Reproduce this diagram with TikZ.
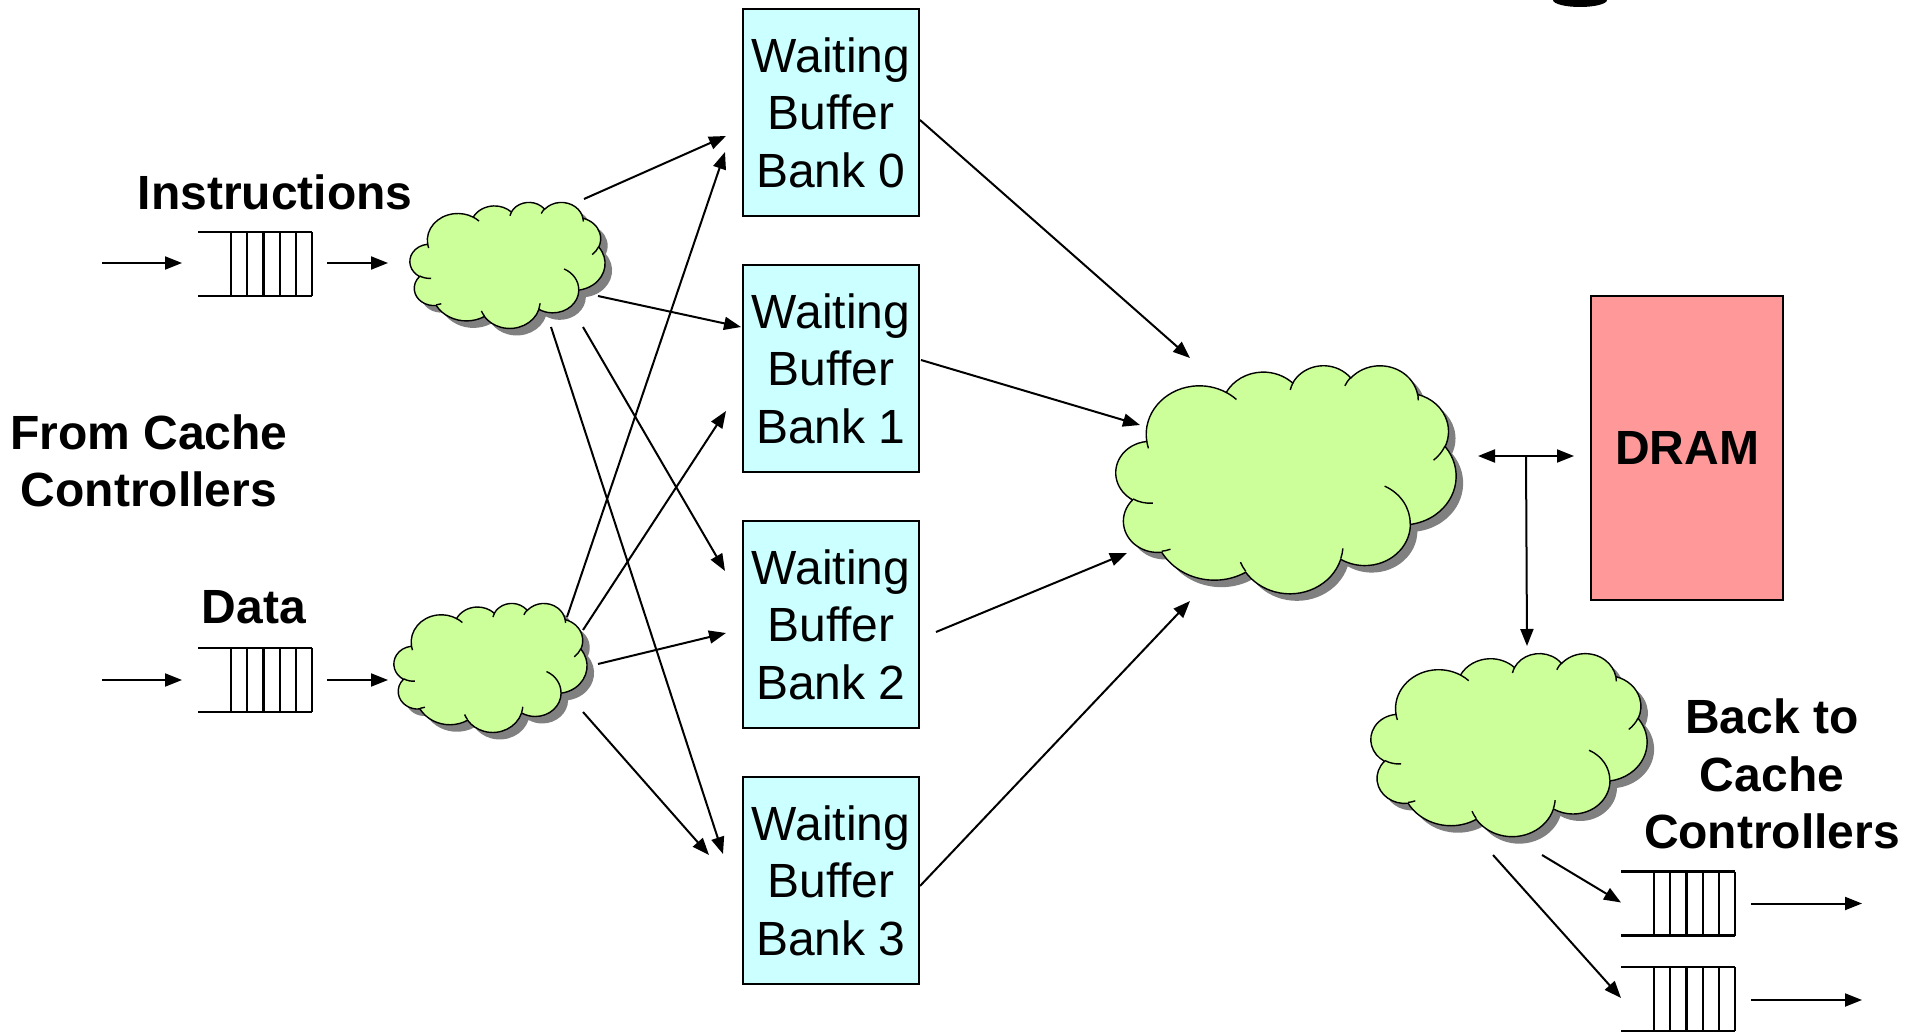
\documentclass[tikz,border=0pt]{standalone}
\usepackage{fontspec}
\setmainfont{Liberation Sans}
\usetikzlibrary{arrows.meta,calc}

\definecolor{cloudgreen}{HTML}{CCFF99}
\definecolor{boxcyan}{HTML}{CCFFFF}
\definecolor{drampink}{HTML}{FF9999}
\definecolor{shadowgray}{HTML}{808080}

% ---- PowerPoint-style cloud outline (43.2 x 43.2 path space) ----
\def\cloudmain{}
\def\cloudinner{}
\newcommand\cldarc[5]{%
  \pgfmathsetmacro\cldA{atan2((#2)*sin(#4),(#3)*cos(#4))}%
  \pgfmathsetmacro\cldB{atan2((#2)*sin((#4)+(#5)),(#3)*cos((#4)+(#5)))}%
  \pgfmathsetmacro\cldD{mod(\cldB-(\cldA)+540,360)-180}%
  \xdef#1{#1 arc[start angle=\cldA, delta angle=\cldD, x radius=#2, y radius=#3]}%
}
\newcommand\cldmove[3]{\xdef#1{#1 (#2,#3)}}

\cldarc\cloudmain{6.753}{9.190}{-190.48748}{123.78053}
\cldarc\cloudmain{5.333}{7.267}{-144.10238}{89.94523}
\cldarc\cloudmain{4.365}{5.945}{-145.80792}{99.72302}
\cldarc\cloudmain{4.857}{6.595}{-130.98607}{117.24173}
\cldarc\cloudmain{5.333}{7.273}{-78.70888}{109.02692}
\cldarc\cloudmain{6.775}{9.220}{-46.26725}{130.269}
\cldarc\cloudmain{5.785}{7.867}{0.62502}{114.03333}
\cldarc\cloudmain{6.752}{9.215}{22.4516}{115.17255}
\cldarc\cloudmain{7.720}{10.543}{66.24263}{75.71102}
\cldarc\cloudmain{4.360}{5.918}{-274.94208}{146.73557}
\cldarc\cloudmain{4.345}{5.945}{-246.8285}{152.52002}

\cldmove\cloudinner{4.693}{26.177}\cldarc\cloudinner{4.345}{5.945}{86.742}{26.4295}
\cldmove\cloudinner{6.928}{34.899}\cldarc\cloudinner{4.360}{5.918}{73.61047}{11.44747}
\cldmove\cloudinner{16.478}{39.090}\cldarc\cloudinner{6.752}{9.215}{137.62415}{14.0811}
\cldmove\cloudinner{28.827}{34.751}\cldarc\cloudinner{6.752}{9.215}{6.45327}{15.99835}
\cldmove\cloudinner{34.129}{22.954}\cldarc\cloudinner{5.785}{7.867}{-70.29235}{70.91737}
\cldmove\cloudinner{41.798}{15.354}\cldarc\cloudinner{5.333}{7.273}{30.31803}{27.7515}
\cldmove\cloudinner{38.324}{5.426}\cldarc\cloudinner{4.857}{6.595}{-13.74433}{14.8589}
\cldmove\cloudinner{29.078}{3.952}\cldarc\cloudinner{4.857}{6.595}{-149.18145}{18.19537}
\cldmove\cloudinner{22.141}{4.720}\cldarc\cloudinner{4.365}{5.945}{-163.49427}{17.68635}
\cldmove\cloudinner{14.000}{5.192}\cldarc\cloudinner{6.753}{9.190}{-66.70695}{12.31935}
\cldmove\cloudinner{4.127}{15.789}\cldarc\cloudinner{6.753}{9.190}{157.65435}{11.85817}

% cloud: name, left, top, width, height (px units)
\newcommand\cloudat[5]{%
  \pgfmathsetmacro\cldsx{#4/43.2}%
  \pgfmathsetmacro\cldsy{#5/43.2}%
  \begin{scope}[shift={(#2+7,#3+7)},xscale=\cldsx,yscale=\cldsy]
    \fill[shadowgray] (3.9,14.37) \cloudmain -- cycle;
  \end{scope}
  \begin{scope}[shift={(#2,#3)},xscale=\cldsx,yscale=\cldsy]
    \filldraw[cloudline,fill=cloudgreen] (3.9,14.37) \cloudmain -- cycle;
    \draw[cloudline] \cloudinner;
  \end{scope}
  \coordinate (#1) at (#2+#4/2,#3+#5/2);
}

% queue: name, left x, middle y
\newcommand\queueat[3]{%
  \coordinate (#1) at (#2,#3);
  \draw[qline] (#2,#3-32) -- ++(114,0) (#2,#3+32) -- ++(114,0);
  \foreach \k in {0,...,5}{\draw[qline] (#2+33+16.2*\k,#3-32) -- ++(0,64);}
}

\tikzset{
  lbl/.style={font=\fontsize{24}{28.7}\selectfont\bfseries, align=center, inner sep=0pt},
  bank/.style={draw, line width=1pt, fill=boxcyan, minimum width=88pt,
    minimum height=103.5pt, inner sep=0pt, align=center,
    font=\fontsize{24}{28.7}\selectfont},
  arr/.style={-{Triangle[length=8.5pt,width=6.5pt]}, line width=1pt},
  biarr/.style={{Triangle[length=8.5pt,width=6.5pt]}-{Triangle[length=8.5pt,width=6.5pt]}, line width=1pt},
  qline/.style={line width=1.1pt},
  cloudline/.style={line width=0.7pt, draw=black},
}

\begin{document}
\begin{tikzpicture}[x=0.5pt,y=-0.5pt]
\useasboundingbox (0,0) rectangle (1916,1032);

% fragment of a glyph at the top edge
\fill (1553,0) arc[start angle=180, end angle=0, x radius=27, y radius=7] -- cycle;

% labels
\node[lbl] (instr) at (275,192) {Instructions};
\node[lbl] (from) at (149,461) {From Cache\\Controllers};
\node[lbl] (data) at (254,607) {Data};
\node[lbl] (back) at (1772,774) {Back to\\Cache\\Controllers};

% banks
\node[bank] (b0) at (831,112.5) {Waiting\\Buffer\\Bank 0};
\node[bank] (b1) at (831,368.5) {Waiting\\Buffer\\Bank 1};
\node[bank] (b2) at (831,624.5) {Waiting\\Buffer\\Bank 2};
\node[bank] (b3) at (831,880.5) {Waiting\\Buffer\\Bank 3};

% DRAM
\node[draw, line width=1pt, fill=drampink, minimum width=96pt, minimum height=152pt,
      inner sep=0pt, font=\fontsize{24}{28.7}\selectfont\bfseries] (dram) at (1687,448) {DRAM};

% clouds
\cloudat{c1}{410}{202}{195}{126}
\cloudat{c2}{394}{603}{193}{129}
\cloudat{c3}{1116}{365}{340}{228}
\cloudat{c4}{1371}{653}{276}{183}

% queues
\queueat{q1}{198}{264}
\queueat{q2}{198}{680}
\queueat{q3}{1621}{903.5}
\queueat{q4}{1621}{999}

% input arrows
\draw[arr] ($(q1)+(-96,-1)$) -- ($(q1)+(-16,-1)$);
\draw[arr] ($(q1)+(129,-1)$) -- ($(c1)+(-119.5,-2)$);
\draw[arr] ($(q2)+(-96,0)$) -- ($(q2)+(-16,0)$);
\draw[arr] ($(q2)+(129,0)$) -- ($(c2)+(-102.5,12.5)$);

% cloud 1 to banks
\draw[arr] ($(c1)+(76.5,-66)$) -- ($(b0.west)+(-16,23.5)$);
\draw[arr] ($(c1)+(90.5,31)$) -- ($(b1.west)+(-1,-41.5)$);
\draw[arr] ($(c1)+(75.5,62)$) -- ($(b2.west)+(-17,-53.5)$);
\draw[arr] ($(c1)+(43.5,62)$) -- ($(b3.west)+(-19,-26.5)$);

% cloud 2 to banks
\draw[arr] ($(c2)+(76.5,-50.5)$) -- ($(b0.west)+(-17,39.5)$);
\draw[arr] ($(c2)+(92.5,-37.5)$) -- ($(b1.west)+(-16,42.5)$);
\draw[arr] ($(c2)+(107.5,-3.5)$) -- ($(b2.west)+(-16,8.5)$);
\draw[arr] ($(c2)+(92.5,44.5)$) -- ($(b3.west)+(-33,-25.5)$);

% banks to cloud 3
\draw[arr] ($(b0.east)+(0,7.5)$) -- ($(c3)+(-96,-121)$);
\draw[arr] ($(b1.east)+(1,-8.5)$) -- ($(c3)+(-146,-54)$);
\draw[arr] ($(b2.east)+(16,7.5)$) -- ($(c3)+(-159,74)$);
\draw[arr] ($(b3.east)+(0,5.5)$) -- ($(c3)+(-96,122)$);

% cloud 3 <-> DRAM, down to cloud 4
\draw[biarr] ($(dram.west)+(-112,8)$) -- ($(dram.west)+(-16,8)$);
\draw[arr] ($(dram.west)+(-64,8)$) -- ($(c4)+(18,-98.5)$);

% cloud 4 to output queues
\draw[arr] ($(c4)+(33,110.5)$) -- ($(q3)+(0,-1)$);
\draw[arr] ($(c4)+(-16,110.5)$) -- ($(q4)+(0,-1)$);
\draw[arr] ($(q3)+(130,0)$) -- ($(q3)+(241,0)$);
\draw[arr] ($(q4)+(130,1)$) -- ($(q4)+(241,1)$);
\end{tikzpicture}
\end{document}
